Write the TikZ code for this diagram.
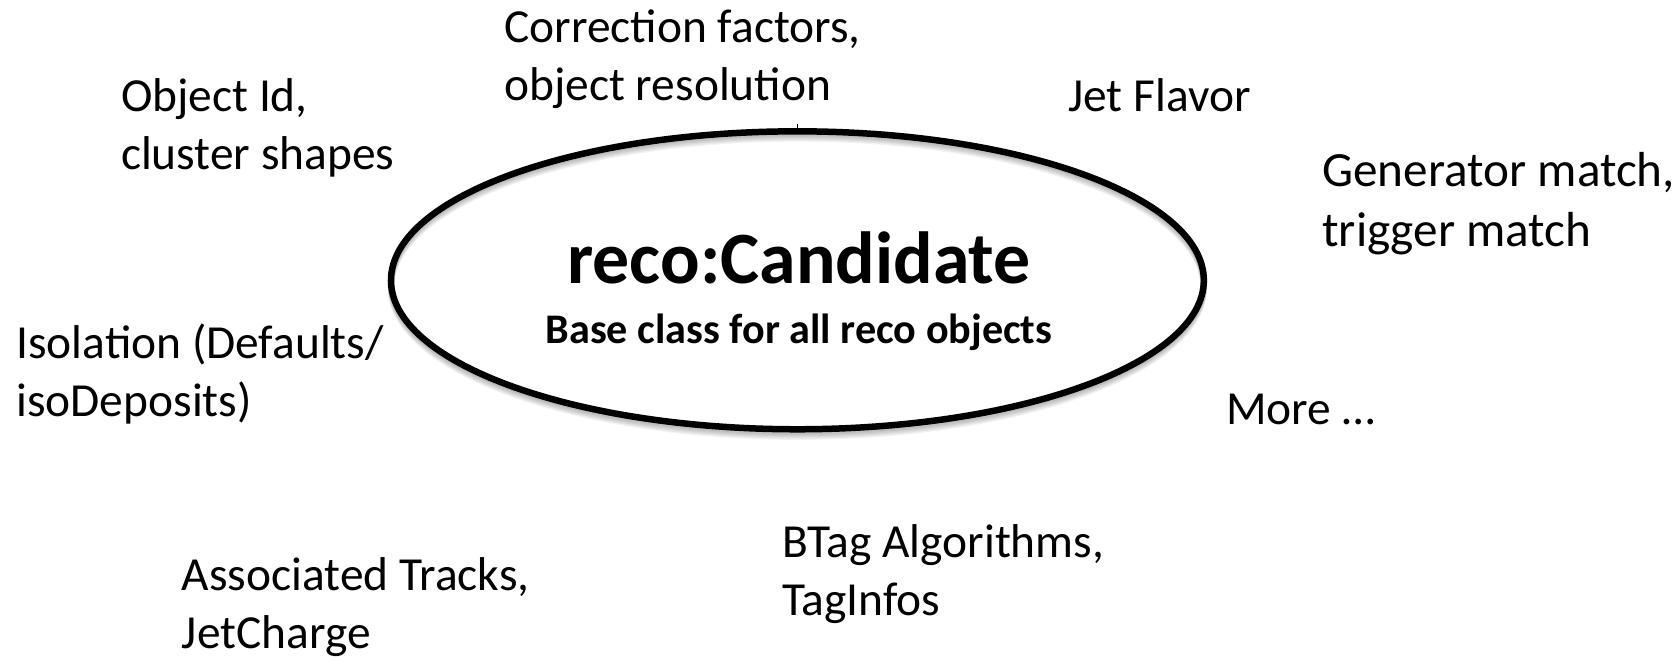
\documentclass[tikz,border=0pt]{standalone}
\usepackage{fontspec}
\setmainfont{Carlito}
\usepackage{tikz}
\usetikzlibrary{positioning, shapes.geometric}

\begin{document}
\begin{tikzpicture}[x=0.02cm, y=-0.02cm,
  hub/.style={ellipse, draw=black, line width=3.7pt, inner sep=0pt,
              minimum width=16.26cm, minimum height=5.96cm},
  hubshadow/.style={draw=black, line width=3.7pt, opacity=0.05},
  title/.style={anchor=base, inner sep=0pt, font=\fontsize{42}{50}\selectfont\bfseries},
  subtitle/.style={anchor=base, inner sep=0pt, font=\fontsize{24}{29}\selectfont\bfseries},
  lbl/.style={anchor=base west, inner sep=0pt, align=left,
              font=\fontsize{27}{33}\selectfont}
]
\useasboundingbox (0,0) rectangle (1675,659);

% soft shadow under the ring
\foreach \d in {1,...,6}
  \draw[hubshadow] (797.4,280.3+1.2*\d) ellipse [x radius=406.4, y radius=149.1];

% Central class
\node[hub] (cand) at (797.4,280.3) {};
\draw[very thin] (797.5,124) -- (797.5,133);
\node[title] (candtitle) at (799,283) {reco:Candidate};
\node[subtitle] (candsub) at (799,343.5) {Base class for all reco objects};

% Features around it (anchored on the last line)
\node[lbl] (corr) at (504,100.9) {Correction factors,\\object resolution};
\node[lbl] (objid) at (120.7,169.2) {Object Id,\\cluster shapes};
\node[lbl] (jetflav) at (1068,111) {Jet Flavor};
\node[lbl, font=\fontsize{28}{34}\selectfont] (genmatch) at (1322,246) {Generator match,\\trigger match};
\node[lbl] (iso) at (16,416.2) {Isolation (Defaults/\\isoDeposits)};
\node[lbl] (more) at (1226,424) {More …};
\node[lbl] (btag) at (782,615.8) {BTag Algorithms,\\TagInfos};
\node[lbl] (assoc) at (181.6,648) {Associated Tracks,\\JetCharge};
\end{tikzpicture}
\end{document}
